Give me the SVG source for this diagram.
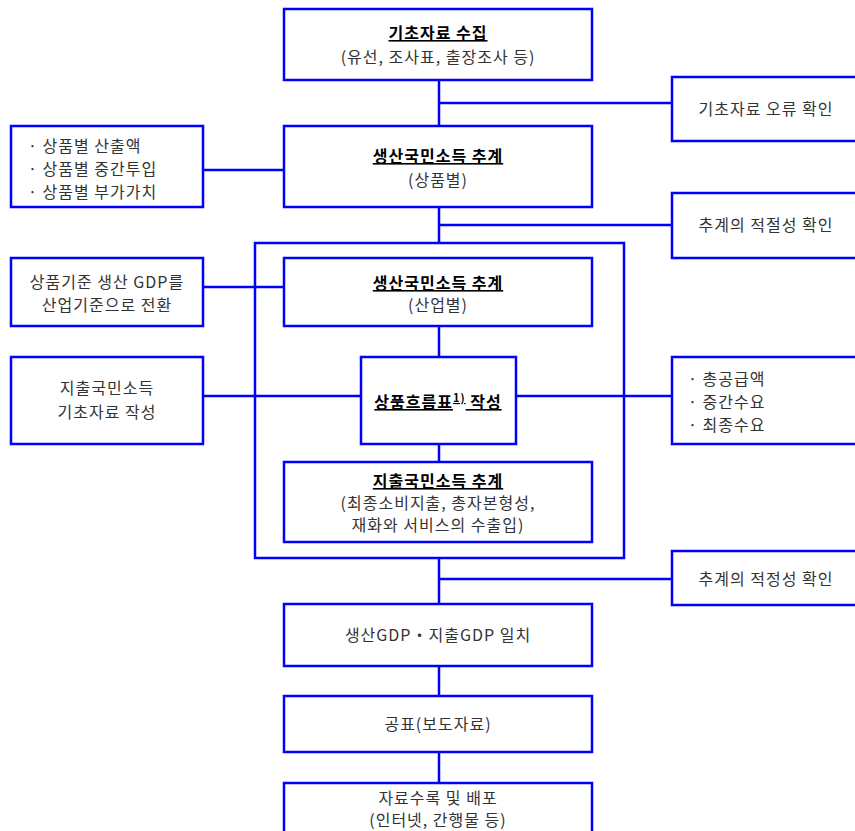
<svg xmlns="http://www.w3.org/2000/svg" width="855" height="831" viewBox="0 0 855 831">
<style>
rect{fill:#fff;stroke:#0000ff;stroke-width:2.5}
.c line{stroke:#0000ff;stroke-width:2.5}
text{font-family:"Noto Sans CJK KR","Liberation Sans",sans-serif;font-size:16px;fill:#333;letter-spacing:1px}
.m{text-anchor:middle}
.b{font-weight:bold;fill:#000;text-decoration:underline}
</style>
<rect x="0" y="0" width="855" height="831" style="stroke:none"/>
<g id="big"><rect x="255" y="243" width="369" height="315" style="fill:none"/></g>
<g class="c" id="connectors">
<line x1="439" y1="80" x2="439" y2="126"/>
<line x1="439" y1="103" x2="672" y2="103"/>
<line x1="203" y1="170" x2="284" y2="170"/>
<line x1="439" y1="207" x2="439" y2="243"/>
<line x1="439" y1="225" x2="672" y2="225"/>
<line x1="203" y1="287" x2="284" y2="287"/>
<line x1="439" y1="326" x2="439" y2="357"/>
<line x1="203" y1="396" x2="361" y2="396"/>
<line x1="516" y1="396" x2="672" y2="396"/>
<line x1="439" y1="444" x2="439" y2="462"/>
<line x1="439" y1="558" x2="439" y2="604"/>
<line x1="439" y1="579" x2="672" y2="579"/>
<line x1="439" y1="666" x2="439" y2="696"/>
<line x1="439" y1="752" x2="439" y2="783"/>
</g>
<g id="n1"><rect x="284" y="9" width="308" height="71"/>
<text x="438" y="39" class="m b">기초자료 수집</text>
<text x="438" y="63" class="m">(유선, 조사표, 출장조사 등)</text></g>
<g id="r1"><rect x="672" y="77" width="186" height="64"/>
<text x="766" y="115" class="m">기초자료 오류 확인</text></g>
<g id="n2"><rect x="284" y="126" width="308" height="81"/>
<text x="438" y="162" class="m b">생산국민소득 추계</text>
<text x="438" y="186" class="m">(상품별)</text></g>
<g id="l2"><rect x="11" y="126" width="192" height="81"/>
<text x="28" y="152">· 상품별 산출액</text>
<text x="28" y="175">· 상품별 중간투입</text>
<text x="28" y="198">· 상품별 부가가치</text></g>
<g id="r2"><rect x="672" y="193" width="186" height="65"/>
<text x="766" y="231" class="m">추계의 적절성 확인</text></g>
<g id="n3"><rect x="284" y="258" width="308" height="68"/>
<text x="438" y="289" class="m b">생산국민소득 추계</text>
<text x="438" y="311" class="m">(산업별)</text></g>
<g id="l3"><rect x="11" y="258" width="192" height="68"/>
<text x="107" y="288" class="m">상품기준 생산 GDP를</text>
<text x="107" y="311" class="m">산업기준으로 전환</text></g>
<g id="n4"><rect x="361" y="357" width="155" height="87"/>
<text x="438" y="408" class="m b">상품흐름표<tspan dy="-6" font-size="11">1)</tspan><tspan dy="6"> 작성</tspan></text></g>
<g id="l4"><rect x="11" y="357" width="192" height="87"/>
<text x="107" y="394" class="m">지출국민소득</text>
<text x="107" y="418" class="m">기초자료 작성</text></g>
<g id="r4"><rect x="672" y="357" width="186" height="87"/>
<text x="688" y="385">· 총공급액</text>
<text x="688" y="408">· 중간수요</text>
<text x="688" y="431">· 최종수요</text></g>
<g id="n5"><rect x="284" y="462" width="308" height="80"/>
<text x="438" y="487" class="m b">지출국민소득 추계</text>
<text x="438" y="509" class="m">(최종소비지출, 총자본형성,</text>
<text x="438" y="531" class="m">재화와 서비스의 수출입)</text></g>
<g id="r5"><rect x="672" y="551" width="186" height="54"/>
<text x="766" y="585" class="m">추계의 적정성 확인</text></g>
<g id="n6"><rect x="284" y="604" width="308" height="62"/>
<text x="438" y="641" class="m">생산GDP・지출GDP 일치</text></g>
<g id="n7"><rect x="284" y="696" width="308" height="56"/>
<text x="438" y="730" class="m">공표(보도자료)</text></g>
<g id="n8"><rect x="284" y="783" width="308" height="55"/>
<text x="438" y="804" class="m">자료수록 및 배포</text>
<text x="438" y="826" class="m">(인터넷, 간행물 등)</text></g>
</svg>
